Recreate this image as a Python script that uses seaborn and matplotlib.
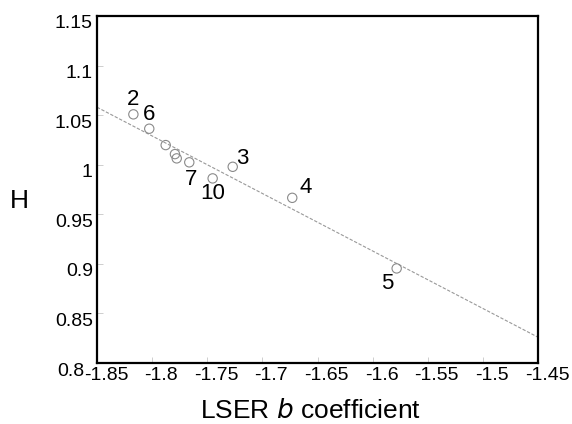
import numpy as np
import pandas as pd
import matplotlib
matplotlib.use("Agg")
import matplotlib.pyplot as plt
import matplotlib.transforms as mtransforms
import seaborn as sns

# Data
lser_b = [-1.817, -1.8026, -1.7877, -1.7793, -1.7777, -1.7663, -1.7451, -1.7269, -1.6729, -1.5782]
h_vals = [1.0508, 1.0363, 1.0198, 1.0107, 1.0064, 1.0024, 0.9862, 0.9979, 0.9666, 0.8954]
point_labels = ["2", "6", "", "", "", "7", "10", "3", "4", "5"]
fit_x = [-1.85, -1.45]
fit_h = [1.058, 0.826]
x_ticks = [-1.85, -1.8, -1.75, -1.7, -1.65, -1.6, -1.55, -1.5, -1.45]
y_ticks = [0.8, 0.85, 0.9, 0.95, 1.0, 1.05, 1.1, 1.15]

# label offsets in pixels (dx, dy) relative to point (screen coords, y up)
label_offsets = {"2": (0, 15), "6": (0, 14), "7": (2, -17), "10": (0, -15),
                 "3": (10, 8), "4": (13, 10), "5": (-9, -15)}

sns.set_theme(style="white")
plt.rcParams['font.family'] = ['Liberation Sans', 'DejaVu Sans']
plt.rcParams['text.color'] = 'black'
plt.rcParams['axes.labelcolor'] = 'black'

fig = plt.figure(figsize=(5.72, 4.24), dpi=100)
ax = fig.add_axes([97/572, 1-363/424, (538-97)/572, (363-16)/424])

df = pd.DataFrame({"b": lser_b, "H": h_vals, "lab": point_labels})
fit_df = pd.DataFrame({"b": fit_x, "H": fit_h})

sns.lineplot(data=fit_df, x="b", y="H", ax=ax, color="#999999", linewidth=0.8,
             linestyle=(0, (3, 1.5)), zorder=2)
sns.scatterplot(data=df, x="b", y="H", ax=ax, marker="o", s=45,
                facecolor="none", edgecolor="#8a8a8a", linewidth=0.8, zorder=3)

for bx, hy, lab in zip(lser_b, h_vals, point_labels):
    if lab:
        dx, dy = label_offsets[lab]
        ax.annotate(lab, (bx, hy), xytext=(dx * 0.72, dy * 0.72), textcoords="offset points",
                    ha="center", va="center", fontsize=16, color="black")

ax.set_xlim(-1.85, -1.45)
ax.set_ylim(0.8, 1.15)
ax.set_xticks(x_ticks)
ax.set_yticks(y_ticks)
ax.set_xticklabels(["%g" % v for v in x_ticks])
ax.set_yticklabels(["%g" % v for v in y_ticks])
ax.tick_params(axis="both", labelsize=14, direction="in", length=4, width=0.5,
               color="#bbbbbb", labelcolor="black", pad=3, left=True, bottom=True)

# matlab-style shifted tick labels
for lbl in ax.get_xticklabels():
    lbl.set_transform(lbl.get_transform() + mtransforms.ScaledTranslation(9/100, 0, fig.dpi_scale_trans))
for i, lbl in enumerate(ax.get_yticklabels()):
    dx = -8/100 if i == 0 else 0
    lbl.set_transform(lbl.get_transform() + mtransforms.ScaledTranslation(dx, -6/100, fig.dpi_scale_trans))

ax.set_xlabel("LSER $\\it{b}$ coefficient", fontsize=19, color="black")
ax.xaxis.set_label_coords(0.485, -0.105)
ax.set_ylabel("H", fontsize=19, rotation=0, va="center", ha="center", color="black")
ax.yaxis.set_label_coords(-0.175, 0.467)

for sp in ax.spines.values():
    sp.set_visible(True)
    sp.set_color("black")
    sp.set_linewidth(1.6)

fig.savefig("out.png", dpi=100)
